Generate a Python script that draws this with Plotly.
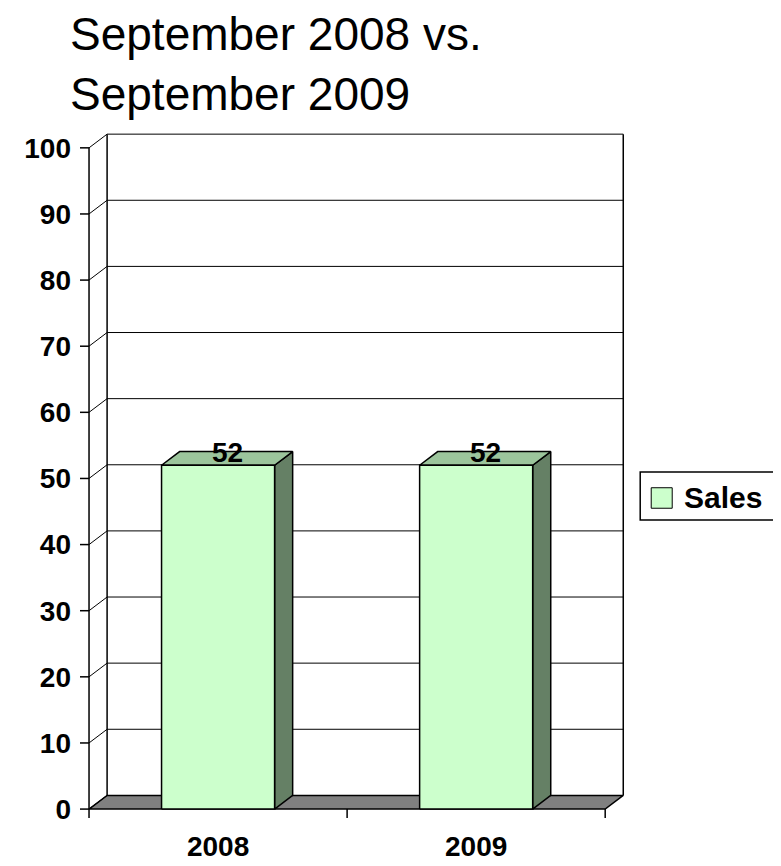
import plotly.graph_objects as go

# ---- data ----
categories = ["2008", "2009"]
sales = [52, 52]
y_ticks = [0, 10, 20, 30, 40, 50, 60, 70, 80, 90, 100]
series_name = "Sales"
title_text = "September 2008 vs.<br>September 2009"

# ---- style ----
FONT = "Liberation Sans, Arial, sans-serif"
DX = 0.07      # depth offset in x units
DY = 2.07      # depth offset in y units
BAR_W = 0.438
FRONT = "#CCFFCC"
TOP = "#9CC59C"
SIDE = "#658065"
FLOOR = "#808080"
W, H = 781, 866
X0, X1 = -0.535, 1.6
Y0, Y1 = -1.5, 103
ML, MT = 72.0, 119.7
MR, MB = 158.2, 38.85

x_lo, x_hi = -0.5, len(categories) - 0.5
fig = go.Figure()

def poly(xs, ys, fill, lw=1.5):
    fig.add_trace(go.Scatter(x=xs + [xs[0]], y=ys + [ys[0]], mode="lines", fill="toself",
                             fillcolor=fill, line=dict(color="black", width=lw),
                             hoverinfo="skip", showlegend=False))

def lines(xs, ys, lw=1.0):
    fig.add_trace(go.Scatter(x=xs, y=ys, mode="lines", line=dict(color="black", width=lw),
                             hoverinfo="skip", showlegend=False))

# floor
poly([x_lo, x_hi, x_hi + DX, x_lo + DX], [0, 0, DY, DY], FLOOR)

# back wall gridlines + left wall diagonals
gx, gy = [], []
for v in y_ticks[1:]:
    gx += [x_lo + DX, x_hi + DX, None]
    gy += [v + DY, v + DY, None]
for v in y_ticks:
    gx += [x_lo, x_lo + DX, None]
    gy += [v, v + DY, None]
lines(gx, gy, 1.0)

# wall edges
ex = [x_lo + DX, x_lo + DX, None, x_hi + DX, x_hi + DX, None, x_lo, x_lo]
ey = [DY, y_ticks[-1] + DY, None, DY, y_ticks[-1] + DY, None, 0, y_ticks[-1]]
lines(ex, ey, 1.5)

# y axis ticks
tx, ty = [], []
for v in y_ticks:
    tx += [X0, x_lo, None]
    ty += [v, v, None]
# x axis boundary ticks
for i in range(len(categories) + 1):
    b = x_lo + i
    tx += [b, b, None]
    ty += [0, -1.35, None]
lines(tx, ty, 1.5)

# bars
for i, v in enumerate(sales):
    l, r = i - BAR_W / 2, i + BAR_W / 2
    poly([r, r + DX, r + DX, r], [0, DY, v + DY, v], SIDE)
    poly([l, r, r + DX, l + DX], [v, v, v + DY, v + DY], TOP)
    poly([l, r, r, l], [0, 0, v, v], FRONT)
    fig.add_annotation(x=i + DX / 2, y=v + DY / 2, yshift=6, text=str(v), showarrow=False,
                       font=dict(family=FONT, size=28, color="black", weight="bold"))

# pixel geometry -> paper
pw = W - ML - MR
ph = H - MT - MB
def px(x):
    return (x - ML) / pw
def py(y):
    return 1 - (y - MT) / ph

# title
fig.add_annotation(xref="paper", yref="paper", x=px(60), y=py(-5), xanchor="left", yanchor="top",
                   align="left", text=title_text, showarrow=False,
                   font=dict(family=FONT, size=46, color="black"))

# legend
fig.add_shape(type="rect", xref="paper", yref="paper", x0=px(632), x1=px(768), y0=py(472), y1=py(521),
              line=dict(color="black", width=1.5), fillcolor="white")
fig.add_shape(type="rect", xref="paper", yref="paper", x0=px(643), x1=px(664), y0=py(488), y1=py(509),
              line=dict(color="black", width=1), fillcolor=FRONT)
fig.add_annotation(xref="paper", yref="paper", x=px(674), y=py(498), xanchor="left", yanchor="middle",
                   text=series_name, showarrow=False,
                   font=dict(family=FONT, size=30, color="black", weight="bold"))

fig.update_layout(
    width=W, height=H,
    margin=dict(l=ML, r=MR, t=MT, b=MB, pad=0),
    paper_bgcolor="white", plot_bgcolor="white",
    showlegend=False,
    xaxis=dict(range=[X0, X1], tickvals=list(range(len(categories))), ticktext=categories,
               ticks="", showgrid=False, zeroline=False, showline=False,
               ticklabelstandoff=8,
               tickfont=dict(family=FONT, size=28, color="black", weight="bold")),
    yaxis=dict(range=[Y0, Y1], tickvals=y_ticks, ticks="", showgrid=False, zeroline=False,
               showline=False, ticklabelstandoff=8,
               tickfont=dict(family=FONT, size=28, color="black", weight="bold")),
)

fig.write_html("out.html")
